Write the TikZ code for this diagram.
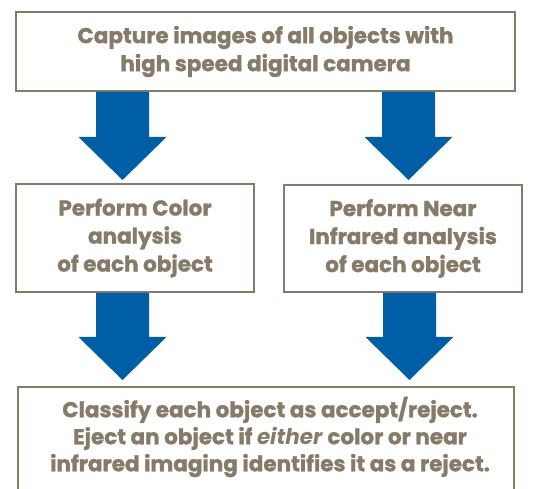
\documentclass[tikz,border=0pt]{standalone}
\usepackage{fontspec}
\setmainfont{Poppins}[BoldFeatures={FakeBold=1.3}]
\usetikzlibrary{calc}
\definecolor{txtbrown}{RGB}{134,122,104}
\definecolor{arrowblue}{RGB}{0,94,166}
\tikzset{
  box/.style={draw=txtbrown, line width=2pt, fill=white, text=txtbrown, align=center,
    font=\bfseries\fontsize{21.5}{28}\selectfont, inner sep=0pt},
}
\newcommand{\blockarrow}[2]{%
  \fill[arrowblue] let \p1=(#1), \p2=(#2) in
    (\x1-26.5,\y1) -- (\x1+26.5,\y1) -- (\x1+26.5,\y2+43) -- (\x1+44,\y2+43)
    -- (\x2,\y2) -- (\x1-44,\y2+43) -- (\x1-26.5,\y2+43) -- cycle;}
\begin{document}
\begin{tikzpicture}[x=1pt,y=1pt]
\useasboundingbox (0,0) rectangle (536,489);
% y measured from top: Y = 489 - y
\node[box, minimum width=499pt, minimum height=79pt] (top) at (265.5,489-51.5) {Capture images of all objects with\\high speed digital camera};
\node[box, minimum width=238pt, minimum height=108pt] (left) at (135,489-238) {Perform Color\\analysis\\of each object};
\node[box, minimum width=238pt, minimum height=107pt] (right) at (403,489-238.5) {Perform Near\\Infrared analysis\\of each object};
\node[box, minimum width=496pt, minimum height=115pt, anchor=north] (bottom) at (266,489-386) {};
\node[text=txtbrown, align=center, font=\bfseries\fontsize{21.5}{27}\selectfont] (btext) at (270,489-437) {Classify each object as accept/reject.\\Eject an object if \textit{either} color or near\\infrared imaging identifies it as a reject.};
\coordinate (a1s) at (122.5,489-92);
\coordinate (a1e) at (122.5,489-180);
\coordinate (a2s) at (408.5,489-92);
\coordinate (a2e) at (408.5,489-180);
\coordinate (a3s) at (122.5,489-293);
\coordinate (a3e) at (122.5,489-380);
\coordinate (a4s) at (409.5,489-293);
\coordinate (a4e) at (409.5,489-380);
\blockarrow{a1s}{a1e}
\blockarrow{a2s}{a2e}
\blockarrow{a3s}{a3e}
\blockarrow{a4s}{a4e}
\end{tikzpicture}
\end{document}
